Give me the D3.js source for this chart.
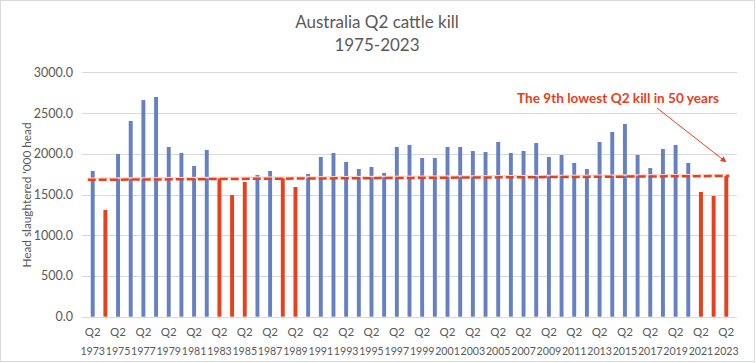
<!DOCTYPE html>
<html>
<head>
<meta charset="utf-8">
<script src="https://cdn.jsdelivr.net/npm/d3@7"></script>
<style>
  body { margin: 0; background: #fff; }
  svg { display: block; font-family: Lato, "Open Sans", sans-serif; }
</style>
</head>
<body>
<div id="chart"></div>
<script>
// Q2 slaughter, '000 head, 1973..2023
const years = d3.range(1973, 2024);
const kill = [
  1789, 1310, 1997, 2403, 2660, 2697, 2083, 2010, 1850, 2047,
  1699, 1494, 1654, 1740, 1789, 1699, 1592, 1752, 1961, 2010,
  1899, 1813, 1838, 1764, 2083, 2108, 1948, 1948, 2083, 2083,
  2034, 2022, 2145, 2010, 2034, 2132, 1961, 1985, 1887, 1813,
  2145, 2268, 2366, 1985, 1825, 2059, 2108, 1887, 1531, 1482,
  1727
];
// the nine lowest are drawn red
const lowYears = [1974, 1983, 1984, 1985, 1988, 1989, 2021, 2022, 2023];
const trend = [1680, 1727];
const yTicks = [0, 500, 1000, 1500, 2000, 2500, 3000];

const W = 756, H = 363;
const blue = "#6581C2", red = "#E8401C";

const svg = d3.select("#chart").append("svg")
    .attr("width", W).attr("height", H);

svg.append("rect")
    .attr("x", 0.5).attr("y", 0.5)
    .attr("width", W - 2).attr("height", H - 2)
    .attr("fill", "#fff").attr("stroke", "#d9d9d9");

const x = d3.scaleBand().domain(years).range([82, 737]).padding(0.69);
const y = d3.scaleLinear().domain([0, 3000]).range([316.7, 72.3]);

// grid
svg.append("g").selectAll("line")
    .data(yTicks)
    .join("line")
    .attr("x1", 82).attr("x2", 737)
    .attr("y1", d => Math.round(y(d)) + 0.5)
    .attr("y2", d => Math.round(y(d)) + 0.5)
    .attr("stroke", "#d9d9d9");

// y axis labels
svg.append("g").selectAll("text")
    .data(yTicks)
    .join("text")
    .attr("x", 73).attr("y", d => y(d) + 4.5)
    .attr("text-anchor", "end")
    .attr("font-size", 12.5).attr("fill", "#595959")
    .text(d => d3.format(".1f")(d));

svg.append("text")
    .attr("transform", "translate(31,195) rotate(-90)")
    .attr("text-anchor", "middle")
    .attr("font-size", 11.8).attr("fill", "#595959")
    .text("Head slaughtered '000 head");

// bars
svg.append("g").selectAll("rect")
    .data(years)
    .join("rect")
    .attr("x", d => x(d))
    .attr("width", x.bandwidth())
    .attr("y", (d, i) => y(kill[i]))
    .attr("height", (d, i) => y(0) - y(kill[i]))
    .attr("fill", d => lowYears.includes(d) ? red : blue);

// x labels, every second year
const xl = svg.append("g").selectAll("text")
    .data(years.filter((d, i) => i % 2 === 0))
    .join("text")
    .attr("text-anchor", "middle")
    .attr("font-size", 10.6).attr("fill", "#595959");
xl.append("tspan")
    .attr("x", d => x(d) + x.bandwidth() / 2).attr("y", 336)
    .attr("font-size", 11.5)
    .text("Q2");
xl.append("tspan")
    .attr("x", d => x(d) + x.bandwidth() / 2).attr("y", 355)
    .text(d => d);

// dashed trend
const x0 = x(years[0]) - 3, x1 = x(years[years.length - 1]) + x.bandwidth() + 1;
svg.append("line")
    .attr("x1", x0).attr("x2", x1)
    .attr("y1", y(trend[0]) - 1.5).attr("y2", y(trend[1]) - 1.5)
    .attr("stroke", "#f9d6cc").attr("stroke-width", 1.5);
svg.append("line")
    .attr("x1", x0).attr("x2", x1)
    .attr("y1", y(trend[0])).attr("y2", y(trend[1]))
    .attr("stroke", red).attr("stroke-width", 2.5)
    .attr("stroke-dasharray", "8,3");

// title
svg.append("text")
    .attr("x", 377).attr("y", 28)
    .attr("text-anchor", "middle")
    .attr("font-size", 17).attr("fill", "#595959")
    .text("Australia Q2 cattle kill");
svg.append("text")
    .attr("x", 377).attr("y", 51)
    .attr("text-anchor", "middle")
    .attr("font-size", 17).attr("fill", "#595959")
    .text("1975-2023");

// annotation
svg.append("defs").append("marker")
    .attr("id", "head")
    .attr("viewBox", "0 0 10 10")
    .attr("refX", 9).attr("refY", 5)
    .attr("markerWidth", 6).attr("markerHeight", 6)
    .attr("orient", "auto")
    .append("path")
    .attr("d", "M0,0 L10,5 L0,10 Z")
    .attr("fill", red);

svg.append("text")
    .attr("x", 618).attr("y", 103)
    .attr("text-anchor", "middle")
    .attr("font-size", 13.6).attr("font-weight", "bold")
    .attr("fill", red)
    .text("The 9th lowest Q2 kill in 50 years");

svg.append("line")
    .attr("x1", 657).attr("y1", 108)
    .attr("x2", 726).attr("y2", 162)
    .attr("stroke", red).attr("stroke-width", 1)
    .attr("marker-end", "url(#head)");
</script>
</body>
</html>
